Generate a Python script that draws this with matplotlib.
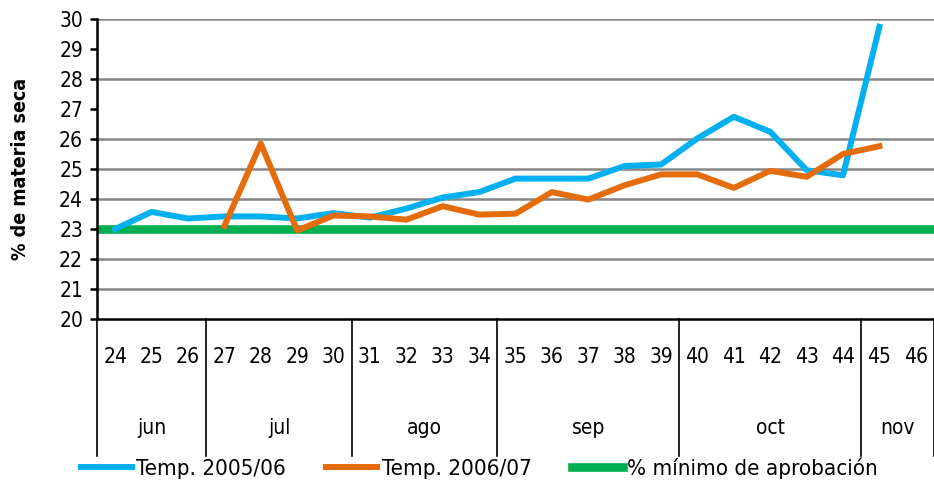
import matplotlib
matplotlib.use('Agg')
import matplotlib.pyplot as plt
import matplotlib.transforms as mtransforms
import numpy as np

plt.rcParams['font.family'] = ['DejaVu Sans']
plt.rcParams['font.stretch'] = 'condensed'

# weekly dry-matter percentage
semanas = [str(s) for s in range(24, 47)]
temp_2005 = [23.0, 23.57, 23.35, 23.42, 23.42, 23.35, 23.53, 23.38, 23.68, 24.05, 24.23,
             24.68, 24.68, 24.68, 25.1, 25.15, 26.02, 26.74, 26.24, 24.96, 24.79, 29.74, np.nan]
temp_2006 = [np.nan, np.nan, np.nan, 23.1, 25.85, 22.95, 23.45, 23.42, 23.31, 23.76, 23.48,
             23.51, 24.23, 23.98, 24.46, 24.82, 24.82, 24.37, 24.94, 24.74, 25.5, 25.76, np.nan]
minimo = 23.0

meses = ['jun', 'jul', 'ago', 'sep', 'oct', 'nov']
semanas_por_mes = [3, 4, 4, 5, 5, 2]

c_2005 = '#00B0F0'
c_2006 = '#E46C0A'
c_min = '#00B050'

fig = plt.figure(figsize=(9.34, 4.84), dpi=100)
ax = fig.add_axes([97 / 934, 1 - 319 / 484, 1 - 97 / 934, 300 / 484])

x = np.arange(len(semanas))

# horizontal grid (27 and 29 left without rule)
for g in [21, 22, 23, 24, 25, 26, 28, 30]:
    ax.axhline(g, color='#868686', lw=1.8, zorder=1)

ax.axhline(minimo, color=c_min, lw=6.2, zorder=2, label='% mínimo de aprobación')
ax.plot(x, temp_2005, color=c_2005, lw=4.3, zorder=3, label='Temp. 2005/06')
ax.plot(x, temp_2006, color=c_2006, lw=4.3, zorder=4, label='Temp. 2006/07')

ax.set_xlim(-0.5, len(semanas) - 0.5)
ax.set_ylim(20, 30)
ax.set_yticks(range(20, 31))
ax.tick_params(axis='y', labelsize=15, length=5, width=1.8, pad=5)
ax.set_xticks([])

for s in ['top', 'right']:
    ax.spines[s].set_visible(False)
ax.spines['left'].set_linewidth(1.8)
ax.spines['bottom'].set_linewidth(1.8)

ax.set_ylabel('% de materia seca', fontsize=14, fontweight='bold', labelpad=21)

# two-level category axis: week numbers and month groups
trans = mtransforms.blended_transform_factory(ax.transData, ax.transAxes)
for i, s in enumerate(semanas):
    ax.text(i, -0.127, s, transform=trans, ha='center', va='center', fontsize=15)

bordes = np.concatenate([[0], np.cumsum(semanas_por_mes)]) - 0.5
for b in bordes:
    ax.plot([b, b], [0, -0.457], transform=trans, color='black', lw=1.2, clip_on=False)
for m, a, b in zip(meses, bordes[:-1], bordes[1:]):
    ax.text((a + b) / 2, -0.363, m, transform=trans, ha='center', va='center', fontsize=15)

handles, labels = ax.get_legend_handles_labels()
order = [1, 2, 0]
ax.legend([handles[i] for i in order], [labels[i] for i in order],
          loc='center left', bbox_to_anchor=(-0.03, -0.497), ncol=3, frameon=False,
          fontsize=16, handlelength=2.3, handletextpad=0.2, columnspacing=1.8,
          borderaxespad=0)

fig.savefig('out.png', dpi=100)
